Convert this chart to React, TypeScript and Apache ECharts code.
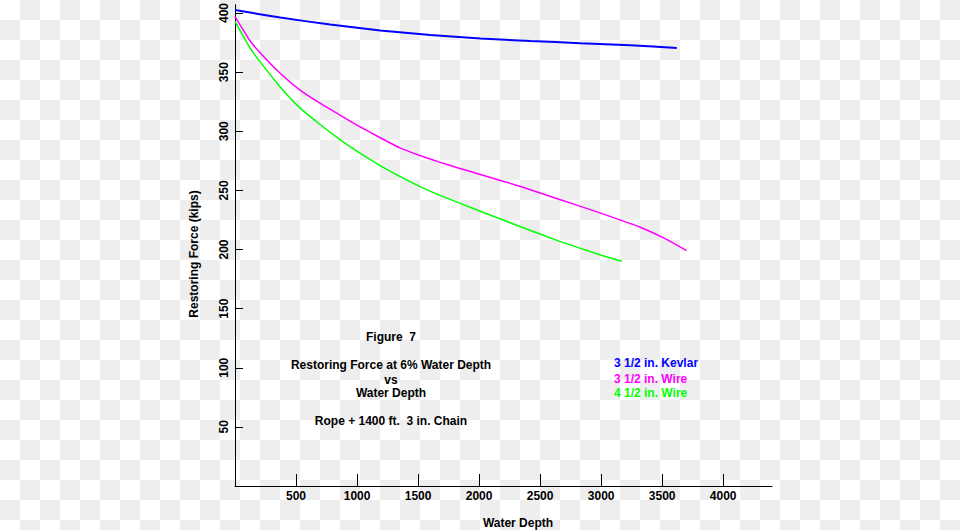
import React, { useEffect, useRef } from "react";
import * as echarts from "echarts";

const xTicks = [500, 1000, 1500, 2000, 2500, 3000, 3500, 4000];
const yTicks = [50, 100, 150, 200, 250, 300, 350, 400];

const kevlarDepth = [0, 370, 780, 1190, 1600, 2010, 2420, 2830, 3240, 3620];
const kevlarForce = [402.5, 396.2, 390.2, 385.3, 381.5, 378.5, 376.3, 374.5, 372.8, 370.5];

const wire35Depth = [0, 120, 200, 370, 530, 700, 860, 1020, 1190, 1350, 1520, 1680, 1850, 2010, 2340, 2660, 2990, 3320, 3540, 3700];
const wire35Force = [397, 377, 367, 349, 335, 323.5, 313.7, 304, 294.5, 286, 279.3, 273.7, 268.3, 263.5, 253.3, 242.3, 231, 218.8, 208.3, 199];

const wire45Depth = [0, 120, 200, 370, 530, 700, 860, 1020, 1190, 1350, 1520, 1680, 2010, 2340, 2660, 2990, 3170];
const wire45Force = [393, 371, 359.5, 337.5, 320, 305.5, 293, 281.8, 271, 261.8, 253, 245.8, 232.3, 219.3, 206.9, 195.5, 190];

const seriesNames = ["3 1/2 in. Kevlar", "3 1/2 in. Wire", "4 1/2 in. Wire"];
const seriesColors = ["#0000ff", "#ff00ff", "#00ff00"];

const FONT = '"Liberation Sans", Arial, sans-serif';

const zip = (xs: number[], ys: number[]) => xs.map((x, i) => [x, ys[i]]);

export default function App() {
  const ref = useRef<HTMLDivElement>(null);
  useEffect(() => {
    document.body.style.margin = "0";
    if (!ref.current) return;
    const chart = echarts.init(ref.current, null, { renderer: "svg" });
    const txt = (text: string, x: number, y: number, color = "#000", align = "center", rotation = 0) => ({
      type: "text",
      x,
      y,
      rotation,
      style: {
        text,
        fill: color,
        font: `bold 12px ${FONT}`,
        textAlign: align,
        textVerticalAlign: "middle",
      },
    });
    const data = [zip(kevlarDepth, kevlarForce), zip(wire35Depth, wire35Force), zip(wire45Depth, wire45Force)];
    chart.setOption({
      animation: false,
      backgroundColor: "transparent",
      grid: { left: 235, right: 188, top: 3, bottom: 44, containLabel: false },
      xAxis: {
        type: "value",
        min: 0,
        max: 4400,
        axisLine: { show: true, lineStyle: { color: "#000", width: 1 } },
        axisTick: { show: true, inside: true, length: 12, customValues: xTicks, lineStyle: { color: "#000", width: 1 } },
        axisLabel: {
          customValues: xTicks,
          formatter: (v: number) => String(v),
          color: "#000",
          fontWeight: "bold",
          fontSize: 12,
          fontFamily: FONT,
          margin: 4,
        },
        splitLine: { show: false },
      },
      yAxis: {
        type: "value",
        min: 0,
        max: 407,
        axisLine: { show: true, lineStyle: { color: "#000", width: 1 } },
        axisTick: { show: true, inside: true, length: 8, customValues: yTicks, lineStyle: { color: "#000", width: 1 } },
        axisLabel: {
          customValues: yTicks,
          formatter: (v: number) => String(v),
          rotate: 90,
          color: "#000",
          fontWeight: "bold",
          fontSize: 12,
          fontFamily: FONT,
          margin: 5,
        },
        splitLine: { show: false },
      },
      series: data.map((d, i) => ({
        type: "line",
        name: seriesNames[i],
        data: d,
        showSymbol: false,
        smooth: 0.15,
        lineStyle: { color: seriesColors[i], width: i === 0 ? 2 : 1.5 },
        itemStyle: { color: seriesColors[i] },
      })),
      graphic: [
        txt("Water Depth", 518, 523),
        txt("Restoring Force (kips)", 194, 254, "#000", "center", Math.PI / 2),
        txt("Figure  7", 391, 337),
        txt("Restoring Force at 6% Water Depth", 391, 365),
        txt("vs", 391, 380),
        txt("Water Depth", 391, 393),
        txt("Rope + 1400 ft.  3 in. Chain", 391, 421),
        txt(seriesNames[0], 614, 363, seriesColors[0], "left"),
        txt(seriesNames[1], 614, 379, seriesColors[1], "left"),
        txt(seriesNames[2], 614, 393, seriesColors[2], "left"),
      ],
    });
    return () => chart.dispose();
  }, []);
  return (
    <div
      style={{
        width: 960,
        height: 530,
        backgroundColor: "#ffffff",
        backgroundImage:
          "linear-gradient(45deg, #eeeeee 25%, transparent 25%, transparent 75%, #eeeeee 75%), linear-gradient(45deg, #eeeeee 25%, transparent 25%, transparent 75%, #eeeeee 75%)",
        backgroundSize: "40px 40px",
        backgroundPosition: "0 0, 20px 20px",
      }}
    >
      <div ref={ref} style={{ width: 960, height: 530 }} />
    </div>
  );
}
